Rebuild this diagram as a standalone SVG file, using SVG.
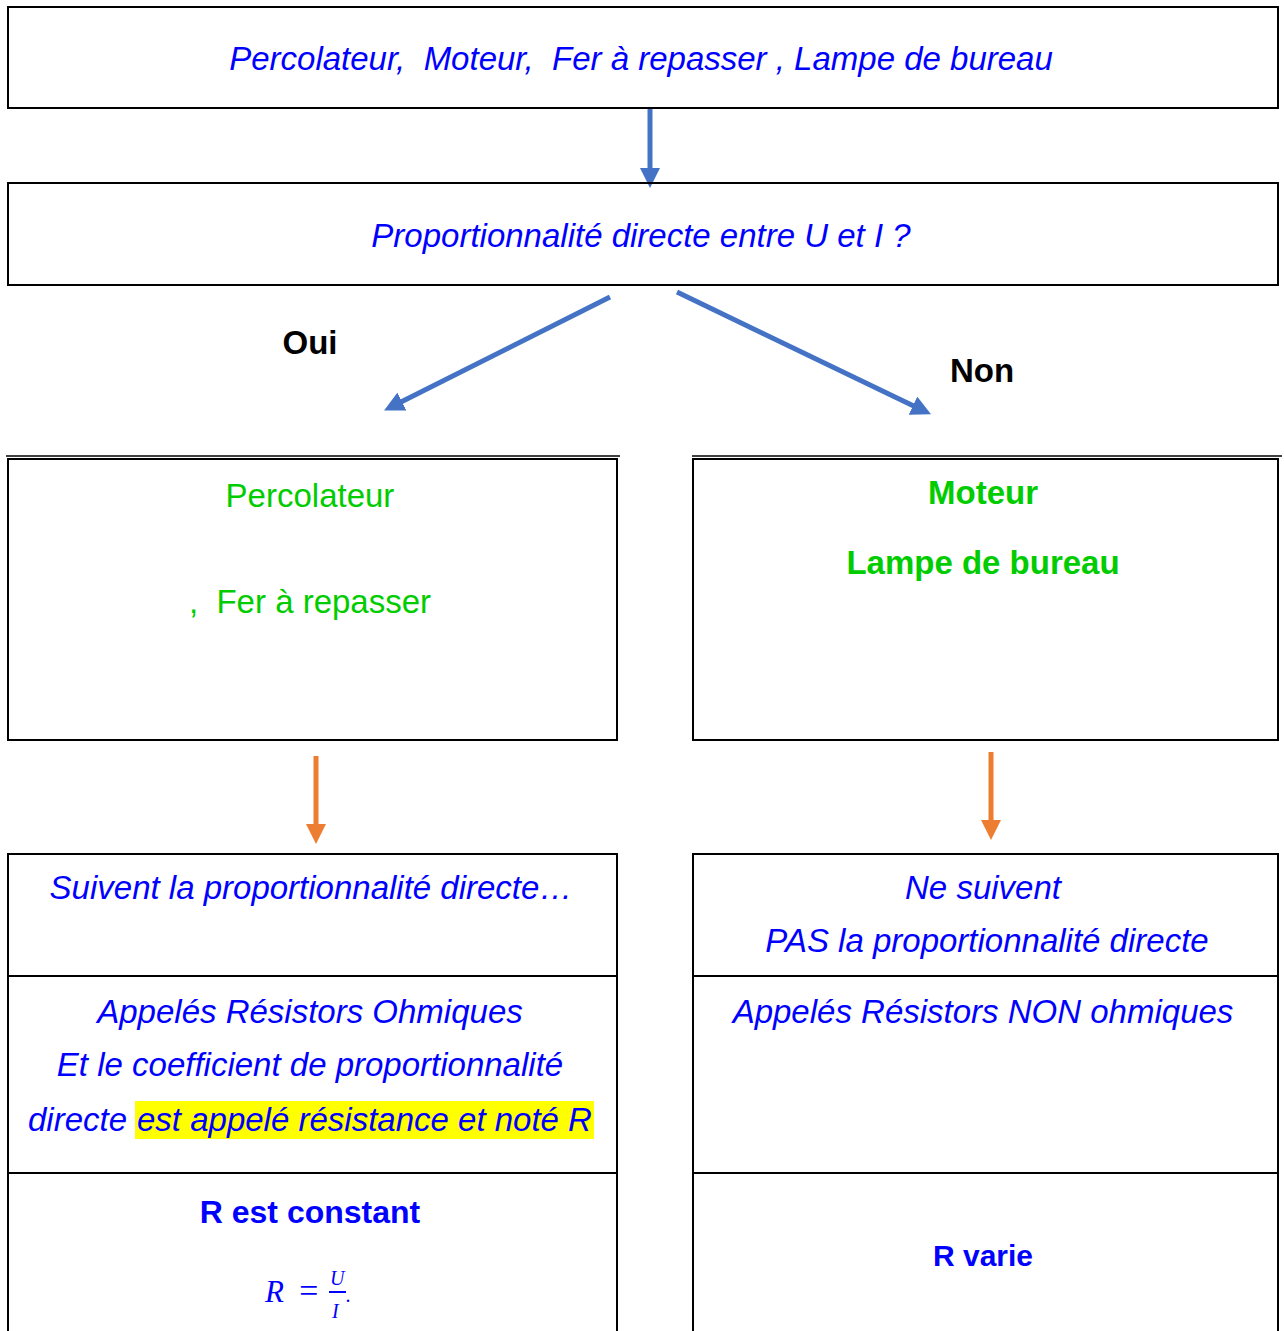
<svg xmlns="http://www.w3.org/2000/svg" width="1284" height="1331" viewBox="0 0 1284 1331">
<style>
.box{fill:none;stroke:#000;stroke-width:2}
.t{font-family:"Liberation Sans",Arial,sans-serif;font-size:33px;text-anchor:middle;white-space:pre}
.bi{fill:#0000FF;font-style:italic}
.g{fill:#00CC00}
.b{font-weight:bold}
.bl{fill:#0000FF}
.k{fill:#000}
.blue{stroke:#4472C4;stroke-width:5;fill:none}
.orange{stroke:#ED7D31;stroke-width:5;fill:none}
.m{font-family:"Liberation Serif","Times New Roman",serif;font-style:italic;fill:#0000FF}
</style>
<defs>
<marker id="ab" markerWidth="4" markerHeight="4" refX="2" refY="2" orient="auto" markerUnits="strokeWidth"><path d="M0,0 L4,2 L0,4 z" fill="#4472C4"/></marker>
<marker id="ao" markerWidth="4" markerHeight="4" refX="2" refY="2" orient="auto" markerUnits="strokeWidth"><path d="M0,0 L4,2 L0,4 z" fill="#ED7D31"/></marker>
</defs>
<rect width="1284" height="1331" fill="#fff"/>
<g id="connectors">
<line class="blue" x1="650" y1="108" x2="650" y2="178" marker-end="url(#ab)"/>
<line class="blue" x1="610" y1="297" x2="393" y2="406" marker-end="url(#ab)"/>
<line class="blue" x1="677" y1="292" x2="922" y2="410" marker-end="url(#ab)"/>
<line class="orange" x1="316" y1="756" x2="316" y2="834" marker-end="url(#ao)"/>
<line class="orange" x1="991" y1="752" x2="991" y2="830" marker-end="url(#ao)"/>
<text class="t b k" x="310" y="354">Oui</text>
<text class="t b k" x="982" y="382">Non</text>
</g>
<g id="n1">
<rect class="box" x="8" y="7" width="1270" height="101"/>
<text class="t bi" x="641" y="70" xml:space="preserve">Percolateur,  Moteur,  Fer à repasser , Lampe de bureau</text>
</g>
<g id="n2">
<rect class="box" x="8" y="183" width="1270" height="102"/>
<text class="t bi" x="641" y="247">Proportionnalité directe entre U et I ?</text>
</g>
<g id="n3">
<line x1="6" y1="456" x2="620" y2="456" stroke="#000" stroke-width="1.5"/>
<rect class="box" x="8" y="459" width="609" height="281"/>
<text class="t g" x="310" y="507">Percolateur</text>
<text class="t g" x="310" y="613" xml:space="preserve">,  Fer à repasser</text>
</g>
<g id="n4">
<line x1="692" y1="456" x2="1282" y2="456" stroke="#000" stroke-width="1.5"/>
<rect class="box" x="693" y="459" width="585" height="281"/>
<text class="t g b" x="983" y="504">Moteur</text>
<text class="t g b" x="983" y="574">Lampe de bureau</text>
</g>
<g id="n5">
<rect class="box" x="8" y="854" width="609" height="490"/>
<line x1="8" y1="976" x2="617" y2="976" stroke="#000" stroke-width="2"/>
<line x1="8" y1="1173" x2="617" y2="1173" stroke="#000" stroke-width="2"/>
<text class="t bi" x="311" y="899">Suivent la proportionnalité directe…</text>
<text class="t bi" x="310" y="1023">Appelés Résistors Ohmiques</text>
<text class="t bi" x="310" y="1076">Et le coefficient de proportionnalité</text>
<rect x="135" y="1101" width="459" height="38" fill="#FFFF00"/>
<text class="t bi" x="28" y="1131" style="text-anchor:start" xml:space="preserve">directe <tspan x="137">est appelé résistance et noté R</tspan></text>
<text class="t b bl" x="310" y="1223" style="font-size:32px">R est constant</text>
<text class="m" x="265" y="1302" font-size="31">R</text>
<text class="m" x="297" y="1302" font-size="34" font-style="normal">=</text>
<text class="m" x="330" y="1285" font-size="20">U</text>
<line x1="329" y1="1292" x2="346" y2="1292" stroke="#0000FF" stroke-width="2"/>
<text class="m" x="332" y="1318" font-size="20">I</text>
<text class="m" x="346" y="1302" font-size="20">.</text>
</g>
<g id="n6">
<rect class="box" x="693" y="854" width="585" height="490"/>
<line x1="693" y1="976" x2="1278" y2="976" stroke="#000" stroke-width="2"/>
<line x1="693" y1="1173" x2="1278" y2="1173" stroke="#000" stroke-width="2"/>
<text class="t bi" x="983" y="899">Ne suivent</text>
<text class="t bi" x="987" y="952">PAS la proportionnalité directe</text>
<text class="t bi" x="983" y="1023">Appelés Résistors NON ohmiques</text>
<text class="t b bl" x="983" y="1266" style="font-size:30px">R varie</text>
</g>
</svg>
